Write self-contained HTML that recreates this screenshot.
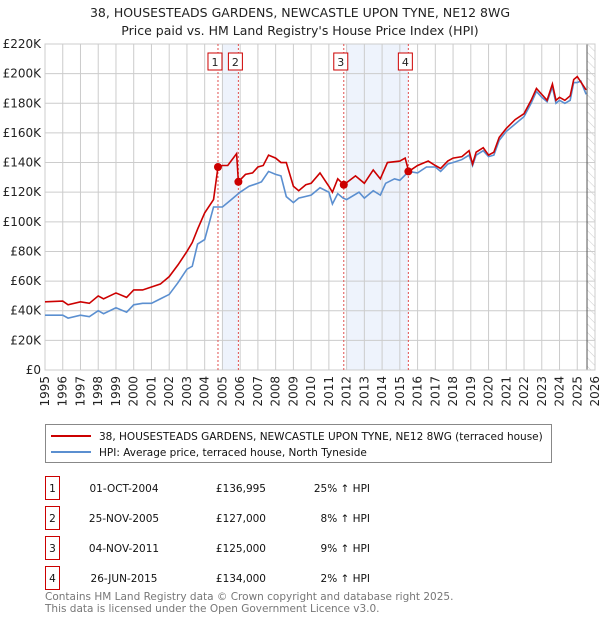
<!DOCTYPE html>
<html><head><meta charset="utf-8"><style>
body{margin:0;background:#fff;font-family:"Liberation Sans","DejaVu Sans",sans-serif}
svg text{font-family:"DejaVu Sans","Liberation Sans",sans-serif}
</style></head><body>
<svg id="c" width="600" height="620" xmlns="http://www.w3.org/2000/svg">
<text x="300" y="17" text-anchor="middle" font-size="12.5" fill="#222">38, HOUSESTEADS GARDENS, NEWCASTLE UPON TYNE, NE12 8WG</text>
<text x="300" y="35" text-anchor="middle" font-size="12.5" fill="#222">Price paid vs. HM Land Registry's House Price Index (HPI)</text>
<g id="plot"></g>
<g>
<rect x="45.5" y="424.5" width="506" height="38" fill="#fff" stroke="#888"/>
<line x1="51" y1="436" x2="91" y2="436" stroke="#cc0000" stroke-width="2"/>
<text x="99" y="440" font-size="10.5" fill="#111">38, HOUSESTEADS GARDENS, NEWCASTLE UPON TYNE, NE12 8WG (terraced house)</text>
<line x1="51" y1="452" x2="91" y2="452" stroke="#5b8fd0" stroke-width="2"/>
<text x="99" y="456" font-size="10.5" fill="#111">HPI: Average price, terraced house, North Tyneside</text>
</g>
<g id="table" font-size="10.5" fill="#111"></g>
<text x="45" y="600" font-size="10.5" fill="#777">Contains HM Land Registry data © Crown copyright and database right 2025.</text>
<text x="45" y="612" font-size="10.5" fill="#777">This data is licensed under the Open Government Licence v3.0.</text>
</svg>
<script>
const hpiYears=[1995,1996,1996.3,1997,1997.5,1998,1998.3,1999,1999.6,2000,2000.5,2001,2001.5,2002,2002.5,2003,2003.3,2003.6,2004,2004.5,2005,2005.5,2006,2006.5,2007,2007.2,2007.6,2008,2008.3,2008.6,2009,2009.3,2010,2010.5,2011,2011.2,2011.5,2011.8,2012,2012.7,2013,2013.5,2013.9,2014.2,2014.7,2015,2015.5,2016,2016.5,2017,2017.3,2017.7,2018,2018.5,2018.9,2019.1,2019.3,2019.7,2020,2020.3,2020.6,2021,2021.5,2022,2022.4,2022.7,2023,2023.3,2023.6,2023.8,2024,2024.3,2024.6,2024.8,2025,2025.2,2025.5];
const hpiValues=[37,37,35,37,36,40,38,42,39,44,45,45,48,51,59,68,70,85,88,110,110,115,120,124,126,127,134,132,131,117,113,116,118,123,120,112,119,116,115,120,116,121,118,126,129,128,134,133,137,137,134,139,140,142,145,138,145,148,144,145,155,161,166,171,180,188,184,181,191,180,182,180,182,194,194,195,186];
const priceYears=[1995,1996,1996.3,1997,1997.5,1998,1998.3,1999,1999.6,2000,2000.5,2001,2001.5,2002,2002.5,2003,2003.3,2003.6,2004,2004.5,2004.75,2005,2005.3,2005.8,2005.9,2006.3,2006.7,2007,2007.3,2007.6,2008,2008.3,2008.6,2009,2009.3,2009.7,2010,2010.5,2011,2011.2,2011.5,2011.84,2012.5,2013,2013.5,2013.9,2014.3,2015,2015.3,2015.5,2016,2016.6,2017,2017.3,2017.7,2018,2018.5,2018.9,2019.1,2019.3,2019.7,2020,2020.3,2020.6,2021,2021.5,2022,2022.4,2022.7,2023,2023.3,2023.6,2023.8,2024,2024.3,2024.6,2024.8,2025,2025.5];
const priceValues=[46,46.5,44,46,45,50,48,52,49,54,54,56,58,63,71,80,86,95,106,115,137,138,138,146,127,132,133,137,138,145,143,140,140,124,121,125,126,133,124,120,129,125,131,126,135,129,140,141,143,134,138,141,138,136,141,143,144,148,139,147,150,145,147,157,163,169,173,182,190,186,182,193,182,184,182,185,196,198,189];
const saleLabels=["1","2","3","4"];
const saleYears=[2004.75,2005.9,2011.84,2015.48];
const salePrices=[136995,127000,125000,134000];
const saleDates=["01-OCT-2004","25-NOV-2005","04-NOV-2011","26-JUN-2015"];
const salePriceText=["£136,995","£127,000","£125,000","£134,000"];
const saleHpiText=["25% ↑ HPI","8% ↑ HPI","9% ↑ HPI","2% ↑ HPI"];
const yTicks=[0,20,40,60,80,100,120,140,160,180,200,220];
const xTicks=[1995,1996,1997,1998,1999,2000,2001,2002,2003,2004,2005,2006,2007,2008,2009,2010,2011,2012,2013,2014,2015,2016,2017,2018,2019,2020,2021,2022,2023,2024,2025,2026];
const NS="http://www.w3.org/2000/svg";
const L=45,R=595,T=44,B=370;
const X=y=>L+(y-1995)/(2026-1995)*(R-L);
const Y=v=>B-v/220*(B-T);
const g=document.getElementById('plot');
function mk(t,a,p){const e=document.createElementNS(NS,t);for(const k in a)e.setAttribute(k,a[k]);(p||g).appendChild(e);return e;}
let s=mk('rect',{x:X(2005),y:T,width:X(saleYears[1])-X(2005),height:B-T,fill:'#eef3fc'});


s=mk('rect',{x:X(2012),y:T,width:X(saleYears[3])-X(2012),height:B-T,fill:'#eef3fc'});


const defs=mk('defs',{});
const pat=mk('pattern',{id:'h',width:6,height:6,patternUnits:'userSpaceOnUse',patternTransform:'rotate(-45)'},defs);
mk('line',{x1:0,y1:0,x2:0,y2:6,stroke:'#ccc','stroke-width':1},pat);
s=mk('rect',{x:X(2025.55),y:T,width:R-X(2025.55),height:B-T,fill:'url(#h)'});


yTicks.forEach(v=>{
 const l=mk('line',{x1:L,x2:R,y1:Y(v),y2:Y(v),stroke:'#ccc'});
 
 
 const t=mk('text',{x:L-4,y:Y(v)+4,'text-anchor':'end','font-size':12,fill:'#222'});
 t.textContent=v===0?'£0':'£'+v+'K';
 
 
});
xTicks.forEach(yr=>{
 const l=mk('line',{x1:X(yr),x2:X(yr),y1:T,y2:B,stroke:'#ccc'});
 
 
 const t=mk('text',{x:0,y:0,'text-anchor':'end','font-size':12,fill:'#222',transform:`translate(${X(yr)+4},${B+6}) rotate(-90)`});
 t.textContent=yr;
 
 
});
s=mk('line',{x1:X(2025.55),x2:X(2025.55),y1:T,y2:B,stroke:'#555'});


s=mk('rect',{x:L,y:T,width:R-L,height:B-T,fill:'none',stroke:'#ccc'});


saleYears.forEach((yr,i)=>{
 const l=mk('line',{x1:X(yr),x2:X(yr),y1:T,y2:B,stroke:'#e05050','stroke-dasharray':'2,2','stroke-width':1});
 
 
 const r=mk('rect',{x:X(yr)-10,y:53,width:14,height:17,fill:'#fff',stroke:'#cc0000'});
 
 
 const t=mk('text',{x:X(yr)-3,y:66,'text-anchor':'middle','font-size':11,fill:'#222'});
 t.textContent=saleLabels[i];
 
 
});
const hp=mk('polyline',{points:hpiYears.map((y,i)=>X(y)+','+Y(hpiValues[i])).join(' '),fill:'none',stroke:'#5b8fd0','stroke-width':1.6});


const pp=mk('polyline',{points:priceYears.map((y,i)=>X(y)+','+Y(priceValues[i])).join(' '),fill:'none',stroke:'#cc0000','stroke-width':1.6});


saleYears.forEach((yr,i)=>{
 const c=mk('circle',{cx:X(yr),cy:Y(salePrices[i]/1000),r:4,fill:'#cc0000'});
 
 
});
const tb=document.getElementById('table');
saleLabels.forEach((lb,i)=>{
 const yc=488+i*30;
 const r=mk('rect',{x:45.5,y:yc-11.5,width:14,height:23,fill:'none',stroke:'#cc0000'},tb);
 
 
 const t=mk('text',{x:52.5,y:yc+4,'text-anchor':'middle'},tb);t.textContent=lb;
 
 
 const d=mk('text',{x:124,y:yc+4,'text-anchor':'middle'},tb);d.textContent=saleDates[i];
 
 
 const p=mk('text',{x:266,y:yc+4,'text-anchor':'end'},tb);p.textContent=salePriceText[i];
 
 
 const h=mk('text',{x:370,y:yc+4,'text-anchor':'end'},tb);h.textContent=saleHpiText[i];
 
 
});
</script>
</body></html>
